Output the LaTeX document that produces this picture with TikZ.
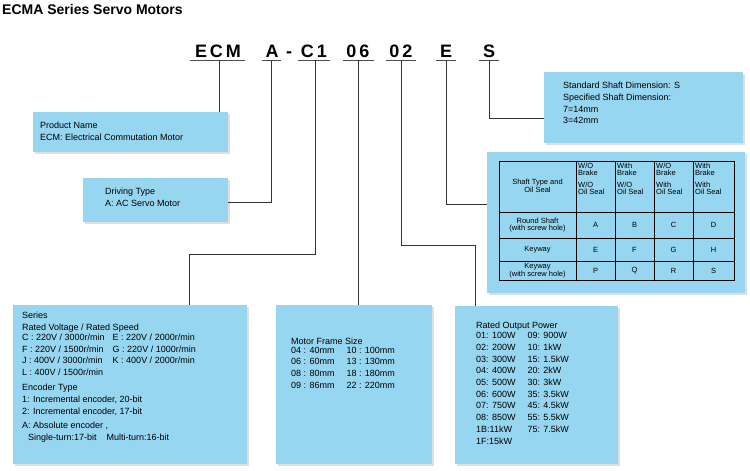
\documentclass[tikz,border=0pt]{standalone}
\usepackage{fontspec}
\setmainfont{Liberation Sans}
\usetikzlibrary{shadows}
\definecolor{boxblue}{RGB}{150,214,240}
\begin{document}
\begin{tikzpicture}[x=1pt,y=-1pt,
  box/.style={fill=boxblue,draw=none,drop shadow={shadow xshift=1.5pt,shadow yshift=-2pt,opacity=0.25}},
  txt/.style={anchor=north west,inner sep=0pt,align=left,font=\fontsize{9}{11.7}\selectfont},
  code/.style={font=\bfseries\fontsize{18}{18}\selectfont,anchor=base,inner sep=0pt},
  ul/.style={line width=0.8pt,draw=black!70},
  conn/.style={draw=black!80,line width=0.6pt}]
\useasboundingbox (0,0) rectangle (750,471);
\node[anchor=base west,inner sep=0pt,font=\bfseries\fontsize{14}{14}\selectfont] (title) at (2,15) {ECMA Series Servo Motors};
% boxes
\path[box] (33,112) rectangle (228,152);
\path[box] (83,178) rectangle (228,222);
\path[box] (544,72) rectangle (743,143);
\path[box] (487,152) rectangle (745,293);
\path[box] (13,305) rectangle (247,464);
\path[box] (276,305) rectangle (432,464);
\path[box] (455,306) rectangle (618,464);
% code
\node[code] (cECM) at (218,57) {E\,C\,M};
\node[code] (cA) at (272,57) {A};
\node[code] (cdash) at (289,57) {-};
\node[code] (cC1) at (314,57) {C\,1};
\node[code] (c06) at (358,57) {0\,6};
\node[code] (c02) at (401,57) {0\,2};
\node[code] (cE) at (446,57) {E};
\node[code] (cS) at (489,57) {S};
\draw[ul] (190,60) -- (245,60) (262,60) -- (281,60) (298,60) -- (330,60)
  (343,60) -- (374,60) (386,60) -- (416,60) (436,60) -- (456,60) (479,60) -- (499,60);
% connectors
\draw[conn] (219,60) -- (219,112);
\draw[conn] (271,60) -- (271,202) -- (228,202);
\draw[conn] (315,60) -- (315,254) -- (189,254) -- (189,305);
\draw[conn] (358,60) -- (358,305);
\draw[conn] (401,60) -- (401,245) -- (475,245) -- (475,306);
\draw[conn] (446,60) -- (446,204) -- (487,204);
\draw[conn] (489,60) -- (489,118) -- (544,118);
% texts
\node[txt] (tprod) at (40,122) {Product Name\\ECM: Electrical Commutation Motor};
\node[txt] (tdrive) at (105,188) {Driving Type\\A: AC Servo Motor};
\node[txt] (tshaft) at (563,82) {Standard Shaft Dimension: S\\Specified Shaft Dimension:\\7=14mm\\3=42mm};
\node[txt] (tseries) at (22,312) {Series\\Rated Voltage / Rated Speed\\[-1pt]
 \begin{tabular}{@{}l@{\hspace{8pt}}l@{}}C : 220V / 3000r/min & E : 220V / 2000r/min\\
 F : 220V / 1500r/min & G : 220V / 1000r/min\\
 J : 400V / 3000r/min & K : 400V / 2000r/min\\
 L : 400V / 1500r/min & \end{tabular}\\[4pt]
 Encoder Type\\1: Incremental encoder, 20-bit\\2: Incremental encoder, 17-bit\\[3pt]
 A: Absolute encoder ,\\\hspace{6pt}Single-turn:17-bit\hspace{10pt}Multi-turn:16-bit};
\node[txt] (tframe) at (291,338) {Motor Frame Size\\[-1pt]
 \begin{tabular}{@{}l@{\hspace{12pt}}l@{}}04 : 40mm & 10 : 100mm\\06 : 60mm & 13 : 130mm\\
 08 : 80mm & 18 : 180mm\\09 : 86mm & 22 : 220mm\end{tabular}};
\node[txt] (tpower) at (476,322) {Rated Output Power\\[-1pt]
 \begin{tabular}{@{}l@{\hspace{12pt}}l@{}}01: 100W & 09: 900W\\02: 200W & 10: 1kW\\03: 300W & 15: 1.5kW\\
 04: 400W & 20: 2kW\\05: 500W & 30: 3kW\\06: 600W & 35: 3.5kW\\07: 750W & 45: 4.5kW\\
 08: 850W & 55: 5.5kW\\1B:11kW & 75: 7.5kW\\1F:15kW & \end{tabular}};
% table
\begin{scope}[font=\fontsize{7.5}{7.5}\selectfont]
\draw[line width=0.8pt] (499,161) rectangle (734,280);
\foreach \x in {576,615,654,693} \draw[line width=0.6pt] (\x,161) -- (\x,280);
\foreach \y in {212,238,261} \draw[line width=0.6pt] (499,\y) -- (734,\y);
\node[align=center,inner sep=0pt] (h0) at (537.5,186) {Shaft Type and\\Oil Seal};
\node[anchor=north west,align=left,inner sep=0pt,font=\fontsize{7.5}{7}\selectfont] (h1) at (578,163) {W/O\\Brake\\[5pt]W/O\\Oil Seal};
\node[anchor=north west,align=left,inner sep=0pt,font=\fontsize{7.5}{7}\selectfont] (h2) at (617,163) {With\\Brake\\[5pt]W/O\\Oil Seal};
\node[anchor=north west,align=left,inner sep=0pt,font=\fontsize{7.5}{7}\selectfont] (h3) at (656,163) {W/O\\Brake\\[5pt]With\\Oil Seal};
\node[anchor=north west,align=left,inner sep=0pt,font=\fontsize{7.5}{7}\selectfont] (h4) at (695,163) {With\\Brake\\[5pt]With\\Oil Seal};
\node[align=center,inner sep=0pt] (r1) at (537.5,225) {Round Shaft\\(with screw hole)};
\node[inner sep=0pt] (r2) at (537.5,249.5) {Keyway};
\node[align=center,inner sep=0pt] (r3) at (537.5,270.5) {Keyway\\(with screw hole)};
\foreach \l/\x in {A/595.5,B/634.5,C/673.5,D/713.5} \node (a\l) at (\x,225) {\l};
\foreach \l/\x in {E/595.5,F/634.5,G/673.5,H/713.5} \node (b\l) at (\x,249.5) {\l};
\foreach \l/\x in {P/595.5,Q/634.5,R/673.5,S/713.5} \node (c\l) at (\x,270.5) {\l};
\end{scope}
\end{tikzpicture}
\end{document}
